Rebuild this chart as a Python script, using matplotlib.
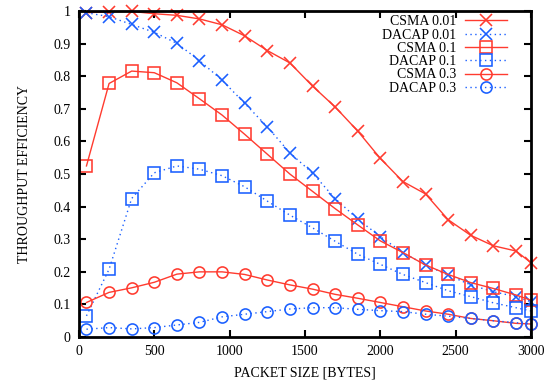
import matplotlib
matplotlib.use("Agg")
import matplotlib.pyplot as plt

plt.rcParams['font.family'] = ['Liberation Serif', 'DejaVu Serif']

packet_size = [50, 200, 350, 500, 650, 800, 950, 1100, 1250, 1400, 1550, 1700,
               1850, 2000, 2150, 2300, 2450, 2600, 2750, 2900, 3000]

csma_001 = [0.995, 0.998, 0.999, 0.992, 0.987, 0.976, 0.958, 0.924, 0.879, 0.841,
            0.770, 0.706, 0.632, 0.548, 0.477, 0.439, 0.360, 0.312, 0.280, 0.264, 0.228]
dacap_001 = [0.995, 0.983, 0.959, 0.935, 0.901, 0.848, 0.788, 0.717, 0.645, 0.565,
             0.503, 0.425, 0.362, 0.308, 0.259, 0.221, 0.190, 0.160, 0.139, 0.124, 0.108]
csma_01 = [0.525, 0.778, 0.816, 0.811, 0.780, 0.731, 0.681, 0.622, 0.561, 0.500,
           0.447, 0.394, 0.344, 0.295, 0.259, 0.221, 0.192, 0.167, 0.149, 0.129, 0.113]
dacap_01 = [0.065, 0.208, 0.425, 0.504, 0.525, 0.515, 0.495, 0.461, 0.417, 0.374,
            0.335, 0.294, 0.254, 0.223, 0.192, 0.167, 0.142, 0.124, 0.105, 0.090, 0.080]
csma_03 = [0.106, 0.137, 0.151, 0.168, 0.193, 0.200, 0.200, 0.192, 0.175, 0.160,
           0.147, 0.131, 0.119, 0.106, 0.093, 0.080, 0.070, 0.057, 0.050, 0.042, 0.040]
dacap_03 = [0.024, 0.029, 0.025, 0.029, 0.037, 0.045, 0.062, 0.070, 0.078, 0.086,
            0.090, 0.090, 0.085, 0.081, 0.078, 0.070, 0.064, 0.057, 0.050, 0.044, 0.040]

x_ticks = [0, 500, 1000, 1500, 2000, 2500, 3000]
y_ticks = [0, 0.1, 0.2, 0.3, 0.4, 0.5, 0.6, 0.7, 0.8, 0.9, 1]
y_tick_labels = ["0", "0.1", "0.2", "0.3", "0.4", "0.5", "0.6", "0.7", "0.8", "0.9", "1"]

RED = "#ff3b2f"
BLUE = "#1a5fff"

fig = plt.figure(figsize=(5.52, 3.83), dpi=100)
ax = fig.add_axes([0.143, 0.12, 0.819, 0.851])

series = [
    ("CSMA 0.01", csma_001, RED, "-", "x", 9),
    ("DACAP 0.01", dacap_001, BLUE, (0, (1, 2.5)), "x", 9),
    ("CSMA 0.1", csma_01, RED, "-", "s", 8.5),
    ("DACAP 0.1", dacap_01, BLUE, (0, (1, 2.5)), "s", 8.5),
    ("CSMA 0.3", csma_03, RED, "-", "o", 8),
    ("DACAP 0.3", dacap_03, BLUE, (0, (1, 2.5)), "o", 8),
]
for label, vals, col, ls, mk, ms in series:
    ax.plot(packet_size, vals, color=col, linestyle=ls, linewidth=1.0,
            marker=mk, markersize=ms, markerfacecolor='none',
            markeredgecolor=col, markeredgewidth=1.15, label=label, clip_on=False)

ax.set_xlim(0, 3000)
ax.set_ylim(0, 1)
ax.set_xticks(x_ticks)
ax.set_xticklabels([str(t) for t in x_ticks])
ax.set_yticks(y_ticks)
ax.set_yticklabels(y_tick_labels)
ax.tick_params(direction='in', top=True, right=True, length=5, width=1.5,
               labelsize=10, pad=6)
for s in ax.spines.values():
    s.set_linewidth(2)
ax.set_xlabel("PACKET SIZE [BYTES]", fontsize=10, labelpad=6)
ax.set_ylabel("THROUGHPUT EFFICIENCY", fontsize=10, labelpad=16)

leg = ax.legend(loc='upper right', bbox_to_anchor=(0.955, 1.0), frameon=False,
                markerfirst=False, fontsize=10, handlelength=3.0,
                labelspacing=0.02, borderaxespad=0.0, borderpad=0.3,
                handletextpad=0.6)

fig.savefig("out.png", dpi=100)
